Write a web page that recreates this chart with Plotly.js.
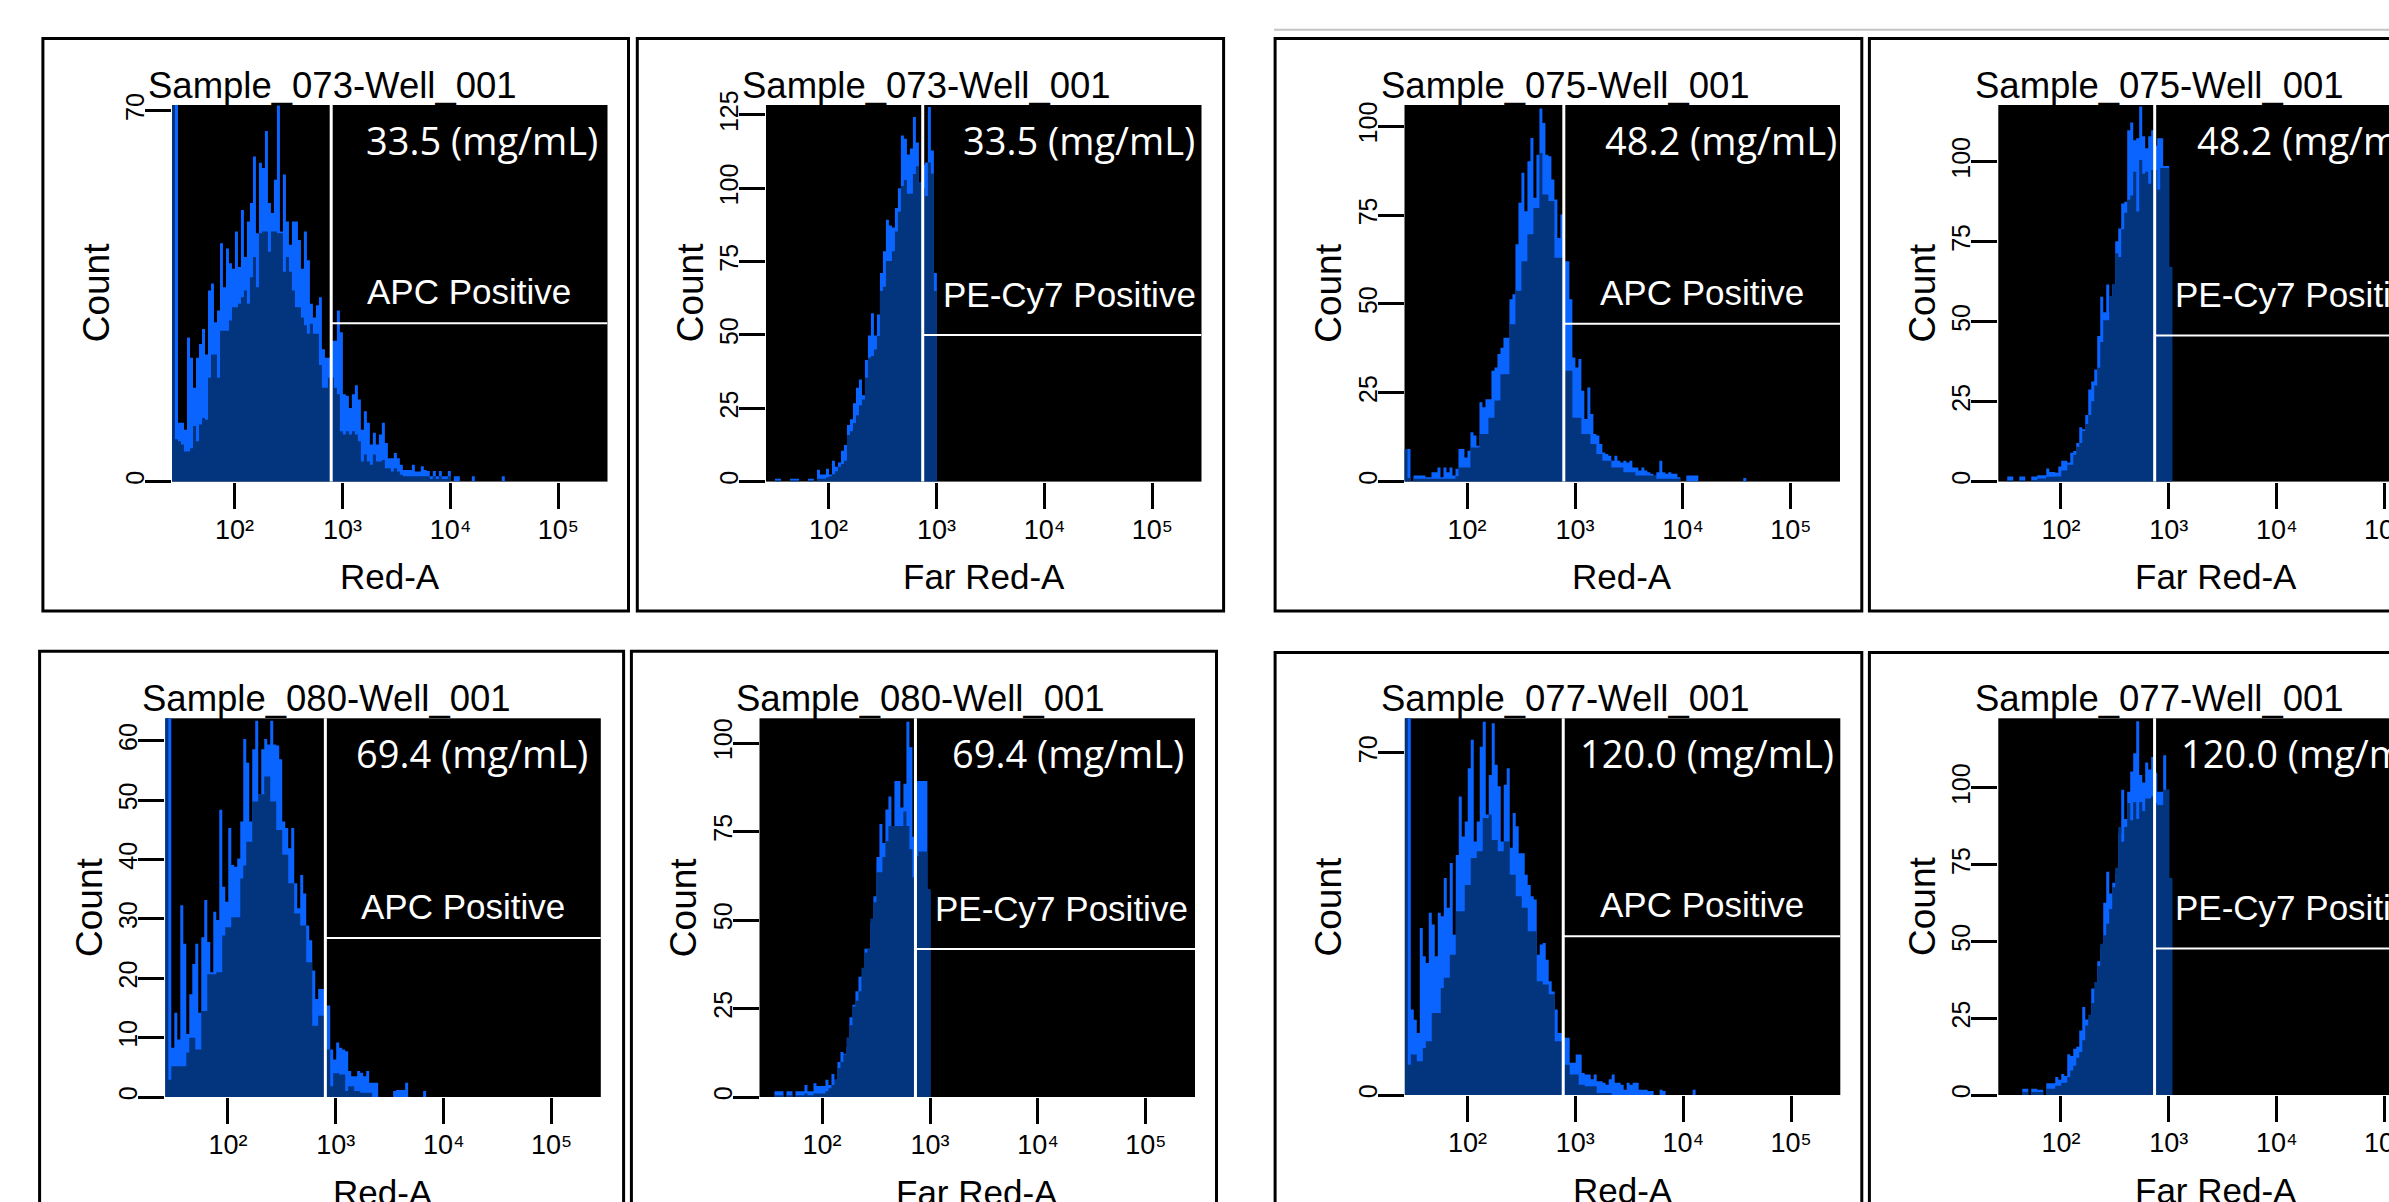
<!DOCTYPE html>
<html>
<head>
<meta charset="utf-8">
<script src="https://cdn.plot.ly/plotly-3.0.1.min.js"></script>
<style>
html,body{margin:0;padding:0;overflow:hidden;background:#ffffff;}
#chart{width:2470px;height:1240px;}
</style>
</head>
<body>
<div id="chart"></div>
<script>
// ---------------- DATA ----------------
// histogram bins on a log10 scale (channel value), 36 bins per decade
const binStartLog = 1.42;
const binWidthLog = 1 / 36;
const axisMaxLog = 5.455;

const xTickVals = [2, 3, 4, 5];
const xTickText = ['10²', '10³', '10⁴', '10⁵'];

const sampleNames = ['Sample_073-Well_001', 'Sample_073-Well_001', 'Sample_075-Well_001', 'Sample_075-Well_001',
                     'Sample_080-Well_001', 'Sample_080-Well_001', 'Sample_077-Well_001', 'Sample_077-Well_001'];
const channelNames = ['Red-A', 'Far Red-A', 'Red-A', 'Far Red-A', 'Red-A', 'Far Red-A', 'Red-A', 'Far Red-A'];
const gateNames = ['APC Positive', 'PE-Cy7 Positive', 'APC Positive', 'PE-Cy7 Positive',
                   'APC Positive', 'PE-Cy7 Positive', 'APC Positive', 'PE-Cy7 Positive'];
const concentrations = ['33.5 (mg/mL)', '33.5 (mg/mL)', '48.2 (mg/mL)', '48.2 (mg/mL)',
                        '69.4 (mg/mL)', '69.4 (mg/mL)', '120.0 (mg/mL)', '120.0 (mg/mL)'];
const gateLog = [2.895, 2.872, 2.896, 2.869, 2.903, 2.865, 2.888, 2.868];
const gateCount = [29.9, 50, 44.4, 45.7, 26.8, 41.8, 32.5, 47.7];
const yMax = [71.1, 128.4, 106, 117.7, 63.8, 107, 77.1, 122.7];
const yTicks = [[0, 70], [0, 25, 50, 75, 100, 125], [0, 25, 50, 75, 100], [0, 25, 50, 75, 100],
                [0, 10, 20, 30, 40, 50, 60], [0, 25, 50, 75, 100], [0, 70], [0, 25, 50, 75, 100]];

// raw counts (bright outline) and smoothed counts (dark fill), bin 0 first
const raw073Red = [90,90,11.1,11.1,9.8,27.2,23.4,17.7,23.4,26,
  28.8,24,36.1,37.4,30.1,32.3,45,36.7,44,41.2,
  40.2,47.2,40.5,51.3,42.4,49.1,52.6,61.4,46.9,60.2,
  59.2,66.2,52.6,50.7,57,71,47.2,58,49.1,44.7,
  49.1,49.1,45.6,40.2,47.2,41.8,33.6,31,33.3,34.8,
  25,23.4,23.4,26.6,26.6,32.3,28.2,16.5,16.2,13.9,
  16.5,18.2,15.5,9.8,13.3,11.1,7,9.2,7,8.9,
  11.1,7.3,4.4,4.4,5.4,4.4,3.2,2.2,2.2,2.2,
  3.2,1.9,1.9,2.9,2.2,2,1,2,1,2,
  1,1,2,0,1,1,0,0,0,0,
  1,0,0,0,0,0,0,0,0,0,1];
const fill073Red = [90,8,7.6,7,5.7,5.7,6.3,10.5,7.6,10.8,
  12,11.7,19.6,24,24,19.6,28.5,28.5,28.5,30.4,
  32.9,32.9,33.6,34.8,36.1,33.6,38.6,42.4,36.7,46.9,
  47.2,47.2,43.4,47.2,47.2,46.9,46.9,39.6,42.4,39.6,
  36.1,32.9,32.9,31,29.5,27.9,29.8,27.9,27.9,22,
  17.7,17.7,19.6,19.6,17.7,16.5,9.5,8.9,9.5,8.9,
  9.5,8.9,7.6,3.8,5.1,3.8,3.2,5.1,3.8,3.8,
  4.1,2.5,2.5,1.9,2.5,1.9,1.3,1,1,1,
  1,1,1,1,1,1,0.5,1,0.5,1,0.5,0.5,1];

const raw073FarRed = [0,0,0,1,1,0,0,0,1,1,
  1,0,0,0,1,1,0,4,2.4,2.4,
  4.4,2.4,7.1,5.1,6.5,10.5,12.5,19.3,21.3,26.7,
  32,34.8,29.4,41.5,49.8,57.4,49.8,57,71.1,78.5,
  89.3,87.3,86.6,93.3,100,118,116.9,111.5,113.6,124.3,
  115.6,102,108,108.8,127.7,112.9,71.1];
const fill073FarRed = [0,0,0,0.5,0.5,0,0,0,0.5,0.5,
  0.5,0,0,0,0.5,0.5,0,1,1,1,
  1.5,1.8,2.5,3.5,5.1,6,7.1,15.9,17.2,20,
  22.6,26,28,35.4,42.2,42.8,45,49.6,65,66.4,
  75.2,75.2,78.5,85.3,92,100.8,102.8,98.1,98.1,104.9,
  107.5,102,100,97.4,108.8,105,65];

const raw075Red = [9.2,9.2,0,1.7,1.7,1.7,1.7,1.2,1.2,2.6,
  2.6,4,1.2,4,2.6,4,1.7,3.6,9.2,9.2,
  6.8,8.7,13.9,13,10.1,22.3,20.9,23.2,23.2,31.2,
  32.1,35.9,37.7,40.5,40.5,51.3,52.7,66.8,78.5,86.9,
  76.1,90.2,96.7,79.9,92,105,100.9,92,91.6,85,
  79.4,68.6,75.2,62,62,51.3,34.9,32.1,34.5,25.6,
  17.6,26.5,19,13.4,13,10.6,8.2,7.8,7.3,5.9,
  7.3,5.9,5.4,5.9,5.4,5.9,4,4,3.1,4,
  3.1,2.6,2.2,1.7,2.6,5.9,2.6,2.2,2.6,2.2,
  2.2,1.2,0,0,1.7,1.7,1.7,1.7,0,0,
  0,0,0,0,0,0,0,0,0,0,0,0,0,1];
const fill075Red = [9.2,1,0,0.8,0.8,0.8,0.8,0.8,0.8,0.8,
  0.8,0.8,0.8,0.8,0.8,0.8,0.8,1.5,4,4,
  4,4,9.6,9.6,9.6,13.4,13.4,13.4,18,18,
  22.8,22.8,30.2,30.2,30.2,44.3,44.3,53.7,53.7,62,
  62,69.6,69.6,77,77,92.5,80.8,80.8,79,79,
  63,63,63,31.2,31.2,31.2,18,18,18,13.4,
  13.4,13.4,10.6,10.6,7.8,7.8,5.9,5.9,5.9,4,
  4,4,4,2.6,2.6,2.6,2.6,1.7,1.7,1.7,
  1.7,1.7,1.7,1.7,0.8,0.8,0.8,0.8,0.8,0.8,0.8,0.8];

const raw075FarRed = [0,0,0,1.6,1.6,0,0,1.6,1.6,0,
  0,1.6,1.6,2,2,2,4.1,3,3,2.8,
  4.7,6.5,6.5,6,9,9.6,12.1,17,16.4,20.8,
  28.8,31.3,35,45.5,57.8,52.9,61.6,52.9,61.6,75.1,
  79.1,86.9,87.5,109.8,112.2,106.7,107.3,117.2,107.9,104.2,
  107.9,109.8,105,107.3,107.3,98.6,98.6,67];
const fill075FarRed = [0,0,0,0.5,0.5,0,0,0.5,0.5,0,
  0,0.5,0.5,1,1,1,1.5,1.5,1.5,1.6,
  1.6,3.5,3.5,5.3,5.3,8.4,10.9,12.1,15.8,18,
  20.8,25.1,30,35.6,43.6,50.4,50.4,58,61.6,71.4,
  70.2,78.9,84,88.1,89.4,96.8,84.4,100.5,96.2,96.8,
  93.1,97.4,97.4,91.2,98,98,98,67];

const raw080Red = [70,70,8.3,14.2,9.7,32.3,25.8,10.6,17.3,22.4,
  25.8,14.2,26.9,33.2,26.1,21,31.2,29.8,48.4,35.4,
  32.9,45.3,39.1,38.8,40.2,46.4,60.3,56.3,46.4,58.6,
  63.4,51,58.6,60.3,59.4,63.4,59.4,59.2,56.9,46.4,
  45.3,41.9,45.3,36,31.8,37.4,34.3,28.9,26.4,21.3,
  16.5,18.2,18.2,15.4,15.4,8,6.3,9.2,8.3,8,
  7.7,4.4,3.5,3.5,4.4,4.1,3.5,4.4,2.4,2.4,
  2.4,0,0,0,0,0,1,1.2,1.2,1.2,
  2.4,0,0,0,0,0,1];
const fill080Red = [70,2.9,5.2,5.2,5.2,5.2,5.2,7.5,10,10,
  8,8,14.5,14.5,20.7,20.7,20.7,21,21,27.2,
  28.6,28.6,30.3,30.3,30.3,36.8,39,43,43,49.8,
  49.8,51,51,54,54,49.8,49.8,45,45,40.8,
  40.8,36,36,30.9,30.9,28.9,28.9,22.7,22.7,12,
  12,13.7,13.7,8,8,1.8,4,4,3.8,3.8,
  1,1.8,1.8,1,1,0.7,0.7,0.7,0.7];

const raw080FarRed = [0,0,0,0,0,1.6,1.6,1.6,0,1.6,
  1.6,0,1.6,1.6,1.6,3.4,1.6,1.6,3.9,3.1,
  3.1,3.1,4.9,3.4,6.5,4.9,9.9,12.7,12.2,14.2,
  22.5,26.1,29.9,34,34.3,41.9,41.9,49.3,56.7,67.8,
  77.1,71.8,81.2,84.9,76.6,89.3,89.3,81.8,88.5,106,
  98.8,73.5,89.3,89.3,89.3,89.3,58.6];
const fill080FarRed = [0,0,0,0,0,0.5,0.5,0.5,0,0.5,
  0.5,0,0.5,0.5,0.5,1,0.5,0.5,1,1,
  1,1,1.6,2.5,3.4,5,8.2,9.9,12,16.8,
  20.3,25.6,27.2,29.9,36.5,40.8,42,50.4,55,63.5,
  63.5,67.8,72.3,76.6,76.6,76.6,76.6,76.6,80.7,76.6,
  70,62,68,69.4,69.4,69.4,58.6];

const raw077Red = [80,80,17.5,15.4,12.7,34.2,28.4,27,37.3,34.9,
  28.4,37.3,36.6,44.4,38.3,47.5,32.8,49.1,61.1,52.9,
  56,66.9,72.7,51.9,56,71.3,76.4,57.4,65.5,76.1,
  67.6,63.2,51.9,63.5,66.9,50.6,57.7,55,49.5,49.5,
  45.1,43,40.7,40,28.7,30.8,31.1,27.7,23.3,21.2,
  17.5,12.7,12.7,11.7,11.7,6.6,6.6,8.3,8.3,4.5,
  4.2,4.2,3.2,4.2,2.8,2.8,2.5,2.1,3.2,4.2,
  2.5,2.5,2.1,1.1,2.5,2.1,2.5,2.5,1.1,1.1,
  1.1,0.8,0.8,0,0,1.1,0.8,0,0,0,
  0,0,0,0,0,0,1.1];
const fill077Red = [80,6.2,8.3,8.3,6.9,6.9,9.6,11,11,16.8,
  16.8,16.8,21.9,24,24,28.7,28.7,37.6,37.6,37.6,
  43,43,48.5,48.5,49.9,49.9,56.7,56.7,57.4,52.2,
  52.2,49.9,49.9,51.9,51.9,45.1,45.1,40.7,40.7,38.3,
  38.3,33.5,33.5,33.5,23.3,23.3,22.6,22.6,20.6,20.6,
  11,11,11,6.2,6.2,4.2,4.2,4.2,2.1,2.1,
  1.8,1.8,1.8,1.8,0.4,0.4,0.4,0.4,0.4];

const raw077FarRed = [0,0,0,0,0,0,0,0,2,2,
  0,2,2,1.7,1.7,0,3.8,3.8,3.8,5.9,
  5,6.8,6.2,13.3,12.7,15.1,15.7,21,28.7,24.6,
  24.6,34.7,34.7,43.6,48,62.6,72.7,65.6,69.1,72.1,
  85.2,99.4,89.9,98.8,105.4,111.3,121.7,104.2,101.8,108.3,
  106,110.1,105,98.8,98.8,110.7,99.4,70.6];
const fill077FarRed = [0,0,0,0,0,0,0,0,1,1,
  0,1,1,1,1,0,2,2,2,3,
  3,4,4,5.9,8,9.5,12.1,14,17.8,22.6,
  26.1,30,36.8,42,49.3,52,55.8,60.6,67.7,74,
  87.3,82.5,87.3,95.1,89.5,95.4,89.9,95.4,92.5,96.6,
  96.6,97.2,95,94.5,94.5,99.4,99.4,70.6];

const rawSeries = [raw073Red, raw073FarRed, raw075Red, raw075FarRed, raw080Red, raw080FarRed, raw077Red, raw077FarRed];
const fillSeries = [fill073Red, fill073FarRed, fill075Red, fill075FarRed, fill080Red, fill080FarRed, fill077Red, fill077FarRed];

// ---------------- LAYOUT (pixel geometry) ----------------
const W = 2470, H = 1240;
const plotW = 435.5;
const plotLeft = [172, 766, 1404.5, 1998.3, 165.3, 759.5, 1404.8, 1998.3];
const plotTop = [105, 105, 105, 105, 718.3, 718.3, 718.3, 718.3];
const plotBottom = [481.6, 481.6, 481.6, 481.6, 1097, 1097, 1095, 1095];
const titleY = [85.5, 85.5, 85.5, 85.5, 698, 698, 698, 698];
const concRightOffset = [-7.5, -4.5, -1, -2.8, -11.2, -8.7, -4.3, 3.2];
const boxes = [[42.9, 38.4, 628.5, 611], [637.3, 38.4, 1223.6, 611], [1275.1, 38.4, 1861.8, 611], [1869.4, 38.4, 2456, 611],
               [39.6, 651.2, 623.6, 1224], [631.4, 651.2, 1216.5, 1224], [1275.1, 652.6, 1861.8, 1225], [1869.4, 652.6, 2456, 1225]];

const BRIGHT = '#0a64ff';
const DARK = '#03347e';
const BITMAP_FONT = 'Liberation Sans, Arial, sans-serif';
const px = v => v / W;
const py = v => 1 - v / H;

const traces = [];
const layout = {
  width: W, height: H,
  margin: {l: 0, r: 0, t: 0, b: 0},
  paper_bgcolor: '#ffffff',
  plot_bgcolor: '#000000',
  showlegend: false,
  shapes: [],
  annotations: []
};

function stepTrace(vals, color, xa, ya) {
  const xs = [], ys = [];
  for (let k = 0; k < vals.length; k++) {
    xs.push(binStartLog + k * binWidthLog);
    ys.push(vals[k]);
  }
  xs.push(binStartLog + vals.length * binWidthLog);
  ys.push(vals[vals.length - 1]);
  return {
    type: 'scatter', mode: 'lines', x: xs, y: ys, xaxis: xa, yaxis: ya,
    line: {shape: 'hv', width: 0, color: color},
    fill: 'tozeroy', fillcolor: color, hoverinfo: 'skip'
  };
}

for (let i = 0; i < 8; i++) {
  const n = i === 0 ? '' : String(i + 1);
  const xa = 'x' + n, ya = 'y' + n;
  const l = plotLeft[i], r = l + plotW, t = plotTop[i], b = plotBottom[i];

  traces.push(stepTrace(rawSeries[i], BRIGHT, xa, ya));
  traces.push(stepTrace(fillSeries[i], DARK, xa, ya));

  layout['xaxis' + n] = {
    domain: [px(l), px(r)], anchor: ya, range: [binStartLog, axisMaxLog],
    tickmode: 'array', tickvals: xTickVals, ticktext: xTickText,
    ticks: 'outside', ticklen: 26, tickwidth: 3, tickcolor: '#000',
    showgrid: false, zeroline: false, showline: false, fixedrange: true,
    ticklabelstandoff: -2,
    tickfont: {family: BITMAP_FONT, size: 27, color: '#000'}
  };
  layout['yaxis' + n] = {
    domain: [py(b), py(t)], anchor: xa, range: [0, yMax[i]],
    tickmode: 'array', tickvals: yTicks[i], ticktext: yTicks[i].map(String),
    ticks: 'outside', ticklen: 26, tickwidth: 3, tickcolor: '#000', tickangle: -90,
    showgrid: false, zeroline: false, showline: false, fixedrange: true,
    ticklabelstandoff: -9,
    tickfont: {family: BITMAP_FONT, size: 25, color: '#000'}
  };

  // gate lines
  layout.shapes.push({type: 'line', xref: xa, yref: ya + ' domain', x0: gateLog[i], x1: gateLog[i], y0: 0, y1: 1,
                      line: {color: '#ffffff', width: 3}});
  layout.shapes.push({type: 'line', xref: xa, yref: ya, x0: gateLog[i], x1: axisMaxLog, y0: gateCount[i], y1: gateCount[i],
                      line: {color: '#ffffff', width: 2}});
  // panel frame
  const bx = boxes[i];
  layout.shapes.push({type: 'rect', xref: 'paper', yref: 'paper', x0: px(bx[0]), x1: px(bx[2]), y0: py(bx[3]), y1: py(bx[1]),
                      line: {color: '#000', width: 3}, fillcolor: 'rgba(0,0,0,0)'});

  // texts
  layout.annotations.push({xref: 'paper', yref: 'paper', x: px(l + plotW / 2 - 57), y: py(titleY[i]),
    text: sampleNames[i], showarrow: false, xanchor: 'center', yanchor: 'middle',
    font: {family: BITMAP_FONT, size: 36.5, color: '#000'}});
  layout.annotations.push({xref: 'paper', yref: 'paper', x: px(l - 76), y: py((t + b) / 2),
    text: 'Count', textangle: -90, showarrow: false, xanchor: 'center', yanchor: 'middle',
    font: {family: BITMAP_FONT, size: 37, color: '#000'}});
  layout.annotations.push({xref: 'paper', yref: 'paper', x: px(l + plotW / 2), y: py(b + 95),
    text: channelNames[i], showarrow: false, xanchor: 'center', yanchor: 'middle',
    font: {family: BITMAP_FONT, size: 35, color: '#000'}});
  layout.annotations.push({xref: 'paper', yref: 'paper', x: px(r + concRightOffset[i]), y: py(t + 35),
    text: concentrations[i], showarrow: false, xanchor: 'right', yanchor: 'middle',
    font: {family: 'Open Sans, sans-serif', size: 38, color: '#ffffff'}});
  if (gateNames[i] === 'APC Positive') {
    layout.annotations.push({xref: xa, yref: ya, x: (gateLog[i] + axisMaxLog) / 2, y: gateCount[i], yshift: 31.6,
      text: gateNames[i], showarrow: false, xanchor: 'center', yanchor: 'middle',
      font: {family: BITMAP_FONT, size: 35, color: '#ffffff'}});
  } else {
    layout.annotations.push({xref: xa, yref: ya, x: gateLog[i], y: gateCount[i], xshift: 18, yshift: 40.7,
      text: gateNames[i], showarrow: false, xanchor: 'left', yanchor: 'middle',
      font: {family: BITMAP_FONT, size: 35, color: '#ffffff'}});
  }
}

// thin grey separator above the right-hand group
layout.shapes.push({type: 'line', xref: 'paper', yref: 'paper', x0: px(1274), x1: px(2470), y0: py(29.7), y1: py(29.7),
                    line: {color: '#c4c4c4', width: 2}});

Plotly.newPlot('chart', traces, layout, {staticPlot: true, displayModeBar: false});
</script>
</body>
</html>
